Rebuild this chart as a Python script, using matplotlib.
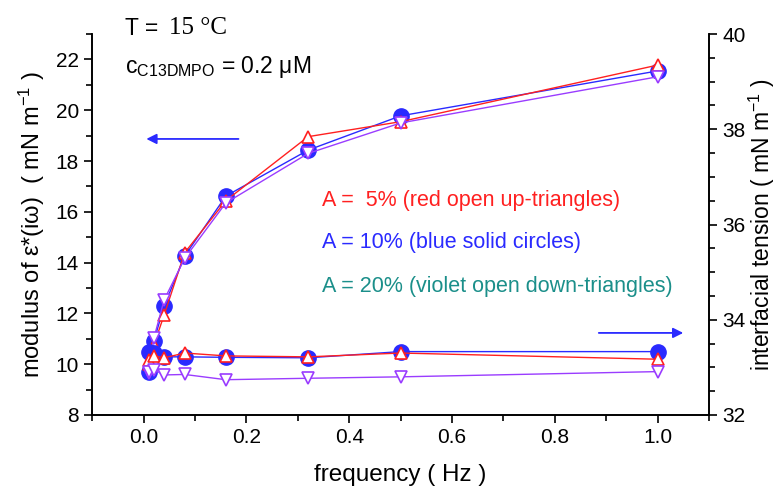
import matplotlib
matplotlib.use("Agg")
import matplotlib.pyplot as plt
from matplotlib.ticker import MultipleLocator

plt.rcParams["font.family"] = ["Liberation Sans", "DejaVu Sans"]
plt.rcParams["mathtext.fontset"] = "custom"
plt.rcParams["mathtext.rm"] = "Liberation Sans"
plt.rcParams["mathtext.default"] = "regular"

freq = [0.01, 0.02, 0.04, 0.08, 0.16, 0.32, 0.5, 1.0]

# modulus of the dilational elasticity (left axis, mN/m)
mod_5 = [10.0, 10.75, 11.94, 14.39, 16.44, 18.96, 19.55, 21.78]
mod_10 = [9.70, 10.91, 12.29, 14.26, 16.62, 18.43, 19.78, 21.55]
mod_20 = [9.67, 11.02, 12.53, 14.17, 16.35, 18.30, 19.50, 21.32]

# interfacial tension (right axis, mN/m)
ten_5 = [33.15, 33.24, 33.20, 33.30, 33.24, 33.22, 33.30, 33.17]
ten_10 = [33.33, 33.30, 33.22, 33.22, 33.21, 33.20, 33.33, 33.33]
ten_20 = [32.90, 32.95, 32.84, 32.85, 32.74, 32.77, 32.80, 32.91]

RED = "#ff2020"
BLUE = "#2a2aff"
VIOLET = "#9a3cff"
TEAL = "#1b8f8a"

fig = plt.figure(figsize=(7.81, 4.87), dpi=100)
ax = fig.add_axes([0.118, 0.148, 0.790, 0.782])
ax2 = ax.twinx()

blue_kw = dict(color=BLUE, lw=1, marker="o", ms=11, mfc=BLUE, mec=BLUE)
red_kw = dict(color=RED, lw=1, marker="^", ms=8.5, mfc="white", mec=RED, mew=1.2)
violet_kw = dict(color=VIOLET, lw=1, marker="v", ms=8.5, mfc="white", mec=VIOLET, mew=1.2)

ax.plot(freq, mod_10, **blue_kw)
ax.plot(freq, mod_5, **red_kw)
ax.plot(freq, mod_20, **violet_kw)
ax2.plot(freq, ten_10, **blue_kw)
ax2.plot(freq, ten_5, **red_kw)
ax2.plot(freq, ten_20, **violet_kw)

ax.set_xlim(-0.1, 1.1)
ax.set_ylim(8, 23)
ax2.set_ylim(32, 40)

ax.xaxis.set_major_locator(MultipleLocator(0.2))
ax.xaxis.set_minor_locator(MultipleLocator(0.1))
ax.yaxis.set_major_locator(MultipleLocator(2))
ax.yaxis.set_minor_locator(MultipleLocator(1))
ax2.yaxis.set_major_locator(MultipleLocator(2))
ax2.yaxis.set_minor_locator(MultipleLocator(0.5))

for a in (ax, ax2):
    a.spines["top"].set_visible(False)
    for s in a.spines.values():
        s.set_linewidth(1.2)
    a.tick_params(which="major", direction="out", length=6, width=1.2, labelsize=15)
    a.tick_params(which="minor", direction="out", length=4, width=1.2)
ax.set_xticks([0.0, 0.2, 0.4, 0.6, 0.8, 1.0])
ax.set_xticklabels(["0.0", "0.2", "0.4", "0.6", "0.8", "1.0"])

ax.set_xlabel("frequency ( Hz )", fontsize=17.5, labelpad=12)
ax.set_ylabel("modulus of ε*(iω)  ( mN m$^{-1}$ )", fontsize=17, labelpad=6)
ax2.set_ylabel("interfacial tension ( mN m$^{-1}$ )", fontsize=16.5, labelpad=1)

# arrows pointing to the relevant axis
ax.annotate("", xy=(0.0, 18.87), xytext=(0.19, 18.87),
            arrowprops=dict(arrowstyle="-|>", color=BLUE, lw=1.3, mutation_scale=15))
ax.annotate("", xy=(1.055, 11.23), xytext=(0.88, 11.23),
            arrowprops=dict(arrowstyle="-|>", color=BLUE, lw=1.3, mutation_scale=15))

ax2.text(0.372, 0.564, "A =  5% (red open up-triangles)", color=RED, fontsize=15.5,
         transform=ax.transAxes, va="center")
ax2.text(0.372, 0.454, "A = 10% (blue solid circles)", color=BLUE, fontsize=15.5,
         transform=ax.transAxes, va="center")
ax2.text(0.372, 0.336, "A = 20% (violet open down-triangles)", color=TEAL, fontsize=15.5,
         transform=ax.transAxes, va="center")

fig.text(0.160, 0.9425, "T = ", fontsize=16.5, va="center")
fig.text(0.216, 0.9425, "15 °C", fontsize=18, va="center", family="Liberation Serif")
fig.text(0.160, 0.862, "c$_{C13DMPO}$ = 0.2 μM", fontsize=16.5, va="center")

fig.savefig("out.png", dpi=100)
